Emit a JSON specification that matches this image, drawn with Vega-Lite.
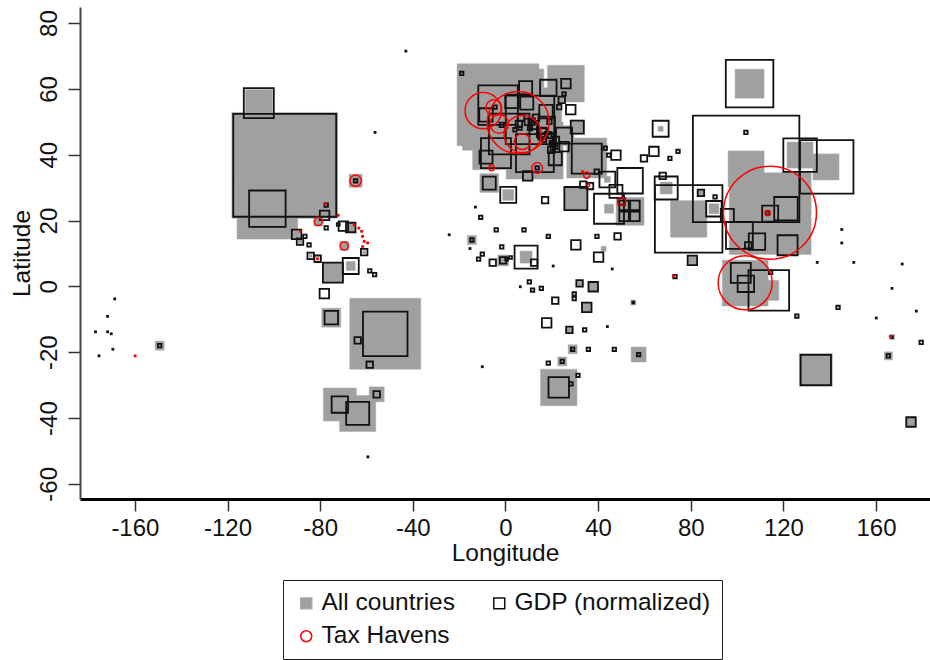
{"$schema":"https://vega.github.io/schema/vega-lite/v6.json","width":850,"height":492,"autosize":{"type":"none"},"padding":{"left":80,"top":7,"right":0,"bottom":161},"background":"white","config":{"font":"Liberation Sans","view":{"stroke":null},"axis":{"grid":false,"labelFont":"Liberation Sans","titleFont":"Liberation Sans","titleFontWeight":"normal","labelFontSize":24,"titleFontSize":24.5,"labelColor":"#111","titleColor":"#111","tickSize":12,"tickWidth":1.5,"tickColor":"#333"}},
"datasets":{
"allCountries":[{"lon":-95.3,"lat":36.8,"value":112},{"lon":-106.5,"lat":55.7,"value":7.3},{"lon":-102.8,"lat":23.6,"value":36.8},{"lon":-64.7,"lat":32.1,"value":1.7},{"lon":-90.2,"lat":15.8,"value":0.36},{"lon":-88.7,"lat":13.6,"value":0.16},{"lon":-84.1,"lat":9.3,"value":0.09},{"lon":-66.8,"lat":17.9,"value":0.8},{"lon":-61,"lat":10.4,"value":0.09},{"lon":-66.8,"lat":6.2,"value":0.8},{"lon":-74.5,"lat":4.2,"value":4},{"lon":-80.8,"lat":19.7,"value":0.8},{"lon":-69.6,"lat":12.3,"value":0.8},{"lon":-149.3,"lat":-18,"value":0.8},{"lon":-75.2,"lat":-9.5,"value":3.6},{"lon":-51.9,"lat":-14.4,"value":50.4},{"lon":-55.6,"lat":-32.8,"value":2.25},{"lon":-71.5,"lat":-35.9,"value":10.9},{"lon":-63.8,"lat":-38.6,"value":13},{"lon":-63.8,"lat":-16.4,"value":0.25},{"lon":-58.6,"lat":-23.8,"value":0.25},{"lon":-3.2,"lat":55.2,"value":67},{"lon":-1,"lat":53.7,"value":66},{"lon":3.5,"lat":47.9,"value":67},{"lon":12.6,"lat":41.3,"value":32.5},{"lon":26.1,"lat":61.6,"value":13.5},{"lon":35.1,"lat":39,"value":16},{"lon":17.8,"lat":49.1,"value":9},{"lon":25.3,"lat":45.8,"value":4},{"lon":31,"lat":48.4,"value":2},{"lon":17.5,"lat":53.1,"value":7.8},{"lon":-7,"lat":31.4,"value":3.5},{"lon":1.2,"lat":27.8,"value":1.2},{"lon":30.4,"lat":26.7,"value":5.3},{"lon":67,"lat":47.9,"value":0.25},{"lon":44,"lat":32.5,"value":0.36},{"lon":44.7,"lat":23.6,"value":0.8},{"lon":53.8,"lat":22.8,"value":7.8},{"lon":9.6,"lat":33.6,"value":1},{"lon":-14.5,"lat":14.1,"value":0.8},{"lon":-1,"lat":7.9,"value":1.2},{"lon":8.9,"lat":8.9,"value":1.44},{"lon":32,"lat":0.9,"value":0.36},{"lon":37.9,"lat":-0.1,"value":0.8},{"lon":35.1,"lat":-6.4,"value":1},{"lon":55.2,"lat":-4.9,"value":0.25},{"lon":42.4,"lat":11.4,"value":0.25},{"lon":27.6,"lat":-13.2,"value":0.36},{"lon":29,"lat":-19.1,"value":0.8},{"lon":57.5,"lat":-20.7,"value":2.25},{"lon":24.5,"lat":-22.8,"value":0.8},{"lon":23,"lat":-30.7,"value":13.3},{"lon":105.4,"lat":61.6,"value":8.4},{"lon":69.4,"lat":29.9,"value":1.44},{"lon":79.1,"lat":20.5,"value":13.3},{"lon":103.9,"lat":35.7,"value":13},{"lon":114.3,"lat":22.1,"value":67},{"lon":138.4,"lat":36.3,"value":6.8},{"lon":127.2,"lat":39.9,"value":6.8},{"lon":90,"lat":23.6,"value":1},{"lon":84.4,"lat":28.4,"value":0.36},{"lon":80.7,"lat":7.9,"value":0.8},{"lon":103.5,"lat":1,"value":21},{"lon":113.7,"lat":-1.2,"value":4},{"lon":134,"lat":-25.4,"value":10.9},{"lon":175.1,"lat":-41.2,"value":0.8},{"lon":166.9,"lat":-15.4,"value":0.25},{"lon":165.3,"lat":-21.1,"value":0.64}],
"gdp":[{"lon":-95.3,"lat":36.8,"value":106},{"lon":-106.5,"lat":55.7,"value":9},{"lon":-102.8,"lat":23.6,"value":13.3},{"lon":-64.7,"lat":32.1,"value":0.12},{"lon":-77.4,"lat":24.7,"value":0.12},{"lon":-78.1,"lat":21.6,"value":0.9},{"lon":-77.4,"lat":17.8,"value":0.12},{"lon":-90.2,"lat":15.8,"value":0.9},{"lon":-86.6,"lat":15.2,"value":0.12},{"lon":-88.7,"lat":13.6,"value":0.42},{"lon":-84.8,"lat":12.6,"value":0.12},{"lon":-84.1,"lat":9.3,"value":0.42},{"lon":-81.1,"lat":8.4,"value":0.42},{"lon":-72.2,"lat":18.8,"value":0.08},{"lon":-70,"lat":18.3,"value":0.9},{"lon":-66.8,"lat":17.9,"value":0.9},{"lon":-61,"lat":10.4,"value":0.42},{"lon":-66.8,"lat":6.2,"value":2.56},{"lon":-74.5,"lat":4.2,"value":4},{"lon":-58.6,"lat":4.7,"value":0.12},{"lon":-56.5,"lat":3.6,"value":0.12},{"lon":-56.3,"lat":46.8,"value":0.01},{"lon":-43,"lat":71.5,"value":0.01},{"lon":-168.7,"lat":-3.8,"value":0.01},{"lon":-171.8,"lat":-9.1,"value":0.01},{"lon":-177,"lat":-13.8,"value":0.01},{"lon":-171.8,"lat":-13.8,"value":0.01},{"lon":-170.2,"lat":-14.4,"value":0.01},{"lon":-169.5,"lat":-19.1,"value":0.01},{"lon":-175.5,"lat":-21.1,"value":0.01},{"lon":-149.3,"lat":-18,"value":0.12},{"lon":-78.2,"lat":-2.2,"value":0.9},{"lon":-75.2,"lat":-9.5,"value":1.8},{"lon":-51.9,"lat":-14.4,"value":19.8},{"lon":-63.8,"lat":-16.4,"value":0.42},{"lon":-58.6,"lat":-23.8,"value":0.42},{"lon":-55.6,"lat":-32.8,"value":0.42},{"lon":-71.5,"lat":-35.9,"value":2.7},{"lon":-63.8,"lat":-38.6,"value":5.3},{"lon":-59.4,"lat":-51.8,"value":0.01},{"lon":-18.9,"lat":64.7,"value":0.12},{"lon":-3.2,"lat":55.1,"value":15.6},{"lon":-8.4,"lat":39.3,"value":1.7},{"lon":-4.1,"lat":40.5,"value":9},{"lon":-8.4,"lat":52.1,"value":1.8},{"lon":-4.5,"lat":54.5,"value":0.12},{"lon":8.7,"lat":60.4,"value":1.7},{"lon":18.5,"lat":60.3,"value":2.7},{"lon":26.1,"lat":61.6,"value":0.9},{"lon":25.3,"lat":58.5,"value":0.12},{"lon":24.3,"lat":56.7,"value":0.42},{"lon":23.2,"lat":54.5,"value":0.2},{"lon":28.2,"lat":53.7,"value":0.9},{"lon":31,"lat":48.4,"value":1.7},{"lon":25.3,"lat":45.8,"value":2.56},{"lon":25.3,"lat":42.5,"value":0.9},{"lon":21.5,"lat":38.8,"value":1.7},{"lon":12.7,"lat":40.5,"value":14.3},{"lon":13.7,"lat":36,"value":0.12},{"lon":1.6,"lat":46.3,"value":16.5},{"lon":10.6,"lat":50.6,"value":23.5},{"lon":2.8,"lat":56.2,"value":1.8},{"lon":9.2,"lat":55.7,"value":1.7},{"lon":17.5,"lat":53.1,"value":1.8},{"lon":17.8,"lat":49.1,"value":2.7},{"lon":15.6,"lat":46.8,"value":0.9},{"lon":5.8,"lat":49.4,"value":0.42},{"lon":-1.6,"lat":49.1,"value":0.2},{"lon":11.3,"lat":50.1,"value":0.42},{"lon":9.7,"lat":50,"value":0.42},{"lon":13.2,"lat":51.3,"value":0.42},{"lon":12.3,"lat":48.8,"value":0.42},{"lon":6.7,"lat":51.3,"value":0.42},{"lon":19,"lat":50,"value":0.2},{"lon":18.4,"lat":46,"value":0.42},{"lon":16.6,"lat":44.5,"value":0.2},{"lon":21.8,"lat":44.5,"value":0.42},{"lon":19.7,"lat":41.5,"value":0.42},{"lon":20.6,"lat":43,"value":0.2},{"lon":20,"lat":43.5,"value":0.2},{"lon":21.4,"lat":42.4,"value":0.2},{"lon":20.4,"lat":42,"value":0.2},{"lon":4.1,"lat":47.6,"value":0.12},{"lon":6.3,"lat":48.1,"value":0.12},{"lon":10.6,"lat":48.1,"value":0.2},{"lon":14.9,"lat":45.1,"value":0.12},{"lon":16.3,"lat":46.6,"value":0.9},{"lon":-7,"lat":31.4,"value":1.7},{"lon":1.2,"lat":27.8,"value":2.56},{"lon":17.1,"lat":26.2,"value":0.42},{"lon":9.6,"lat":33.6,"value":0.9},{"lon":30.4,"lat":26.7,"value":5.3},{"lon":67,"lat":47.9,"value":2.56},{"lon":64.1,"lat":41,"value":0.9},{"lon":59.8,"lat":38.9,"value":0.42},{"lon":71,"lat":38.9,"value":0.12},{"lon":74.5,"lat":41,"value":0.12},{"lon":47.7,"lat":39.9,"value":0.9},{"lon":44.6,"lat":39.9,"value":0.12},{"lon":43.1,"lat":42,"value":0.12},{"lon":53.8,"lat":32.1,"value":6.5},{"lon":44,"lat":32.5,"value":2.5},{"lon":44.7,"lat":23.6,"value":9},{"lon":51.2,"lat":24.6,"value":0.9},{"lon":55.9,"lat":24.6,"value":0.9},{"lon":51.2,"lat":21.3,"value":0.9},{"lon":55.9,"lat":21.3,"value":0.9},{"lon":50.2,"lat":25.8,"value":0.42},{"lon":47.7,"lat":28.9,"value":1.7},{"lon":39.4,"lat":34.9,"value":0.2},{"lon":33.6,"lat":30.9,"value":0.42},{"lon":36.5,"lat":30.5,"value":0.42},{"lon":35.1,"lat":38.8,"value":9},{"lon":-13,"lat":24.1,"value":0.01},{"lon":-10.7,"lat":21,"value":0.12},{"lon":-4,"lat":17.2,"value":0.12},{"lon":8,"lat":17.2,"value":0.12},{"lon":18.5,"lat":15.2,"value":0.12},{"lon":-24.3,"lat":15.7,"value":0.01},{"lon":-14.5,"lat":14.1,"value":0.12},{"lon":-15.3,"lat":11.5,"value":0.01},{"lon":-1.6,"lat":12,"value":0.12},{"lon":-10,"lat":9.8,"value":0.12},{"lon":-11.6,"lat":8.3,"value":0.12},{"lon":-5.5,"lat":7.2,"value":0.42},{"lon":-1,"lat":7.9,"value":0.42},{"lon":0.5,"lat":8.3,"value":0.08},{"lon":2.2,"lat":8.8,"value":0.08},{"lon":8.9,"lat":8.9,"value":5.3},{"lon":12.4,"lat":7.2,"value":0.42},{"lon":20.6,"lat":6.2,"value":0.01},{"lon":30.4,"lat":12.6,"value":0.9},{"lon":39.5,"lat":15.2,"value":0.12},{"lon":48.4,"lat":15.2,"value":0.42},{"lon":40.2,"lat":8.9,"value":0.9},{"lon":46.1,"lat":5.3,"value":0.01},{"lon":73.2,"lat":3,"value":0.12},{"lon":10.3,"lat":1.4,"value":0.12},{"lon":6.4,"lat":-0.1,"value":0.01},{"lon":11.7,"lat":-1.1,"value":0.12},{"lon":15.5,"lat":-0.6,"value":0.12},{"lon":32,"lat":0.9,"value":0.42},{"lon":37.9,"lat":-0.1,"value":0.9},{"lon":29.7,"lat":-2.3,"value":0.12},{"lon":29.7,"lat":-3.7,"value":0.12},{"lon":21.5,"lat":-4.3,"value":0.42},{"lon":35.1,"lat":-6.4,"value":0.9},{"lon":55.2,"lat":-4.9,"value":0.03},{"lon":17.8,"lat":-11.1,"value":0.9},{"lon":27.6,"lat":-13.2,"value":0.42},{"lon":34.2,"lat":-13.2,"value":0.12},{"lon":44,"lat":-12.2,"value":0.01},{"lon":29,"lat":-19.1,"value":0.12},{"lon":35.8,"lat":-19.1,"value":0.12},{"lon":47,"lat":-19.1,"value":0.12},{"lon":57.5,"lat":-20.7,"value":0.12},{"lon":24.5,"lat":-22.8,"value":0.12},{"lon":18.5,"lat":-23.3,"value":0.12},{"lon":-10,"lat":-24.4,"value":0.01},{"lon":23,"lat":-30.7,"value":4.2},{"lon":28.3,"lat":-29.6,"value":0.12},{"lon":31.3,"lat":-27,"value":0.12},{"lon":105.4,"lat":61.6,"value":22.6},{"lon":67.9,"lat":33.6,"value":0.42},{"lon":69.4,"lat":29.9,"value":5.3},{"lon":79.1,"lat":20.5,"value":45.6},{"lon":103.9,"lat":35.7,"value":113.4},{"lon":114.3,"lat":22.1,"value":2.56},{"lon":113.2,"lat":22.3,"value":0.12},{"lon":138.7,"lat":36.3,"value":28.6},{"lon":127.2,"lat":39.9,"value":11.2},{"lon":121.8,"lat":12.5,"value":4},{"lon":121.1,"lat":23.6,"value":5.5},{"lon":108.6,"lat":13.6,"value":2.7},{"lon":101,"lat":15.5,"value":7.2},{"lon":104.8,"lat":12.5,"value":0.42},{"lon":95.8,"lat":21.6,"value":1.7},{"lon":90,"lat":23.6,"value":2.4},{"lon":84.4,"lat":28.4,"value":0.42},{"lon":90.5,"lat":27.2,"value":0.12},{"lon":103.8,"lat":46.8,"value":0.12},{"lon":80.7,"lat":7.9,"value":0.9},{"lon":113.7,"lat":-1.2,"value":16.5},{"lon":114.5,"lat":4.3,"value":0.12},{"lon":101.6,"lat":4.1,"value":4},{"lon":103.8,"lat":0.8,"value":2.7},{"lon":125.8,"lat":-9,"value":0.12},{"lon":143.6,"lat":-6.4,"value":0.12},{"lon":145.2,"lat":17.3,"value":0.01},{"lon":145.2,"lat":13.2,"value":0.01},{"lon":134.6,"lat":7.3,"value":0.01},{"lon":150.4,"lat":7.3,"value":0.01},{"lon":171.3,"lat":6.8,"value":0.01},{"lon":166.9,"lat":-0.6,"value":0.01},{"lon":177.4,"lat":-7.5,"value":0.01},{"lon":160.1,"lat":-9.6,"value":0.01},{"lon":166.9,"lat":-15.4,"value":0.03},{"lon":179.5,"lat":-17,"value":0.12},{"lon":165.3,"lat":-21.1,"value":0.12},{"lon":134,"lat":-25.4,"value":9.2},{"lon":175.1,"lat":-41.2,"value":0.9}],
"taxHavens":[{"lon":-64.7,"lat":32.1,"value":1.3},{"lon":-80.8,"lat":19.7,"value":0.64},{"lon":-69.6,"lat":12.3,"value":0.64},{"lon":-77.9,"lat":25.1,"value":0.03},{"lon":-88.6,"lat":16.7,"value":0.03},{"lon":-72.2,"lat":21.6,"value":0.03},{"lon":-63.3,"lat":17.7,"value":0.03},{"lon":-62.1,"lat":16.7,"value":0.03},{"lon":-61.7,"lat":15.2,"value":0.03},{"lon":-61,"lat":13.7,"value":0.03},{"lon":-59.5,"lat":13.2,"value":0.03},{"lon":-61.7,"lat":12.1,"value":0.03},{"lon":-65.3,"lat":18.7,"value":0.03},{"lon":-81.1,"lat":8.4,"value":0.03},{"lon":-159.9,"lat":-21.1,"value":0.03},{"lon":166.2,"lat":-15.2,"value":0.03},{"lon":72.6,"lat":3.2,"value":0.03},{"lon":-9.6,"lat":53.4,"value":13.2},{"lon":5.5,"lat":49.8,"value":38.5},{"lon":7.4,"lat":46.3,"value":13.8},{"lon":7.3,"lat":44,"value":2.54},{"lon":-2.7,"lat":49.4,"value":3.46},{"lon":-5,"lat":54.3,"value":2.54},{"lon":-6,"lat":36,"value":0.28},{"lon":13.7,"lat":36,"value":1.13},{"lon":35.1,"lat":33.8,"value":0.38},{"lon":35.8,"lat":30.7,"value":0.07},{"lon":33.3,"lat":34.9,"value":0.03},{"lon":50.2,"lat":25.8,"value":0.64},{"lon":114.2,"lat":22.4,"value":86.6},{"lon":113.2,"lat":22.3,"value":0.28},{"lon":103.5,"lat":1.1,"value":29.2}]},
"layer":[{"encoding":{"x":{"field":"lon","type":"quantitative","title":"Longitude","scale":{"domain":[-183.7,183.3],"nice":false,"zero":false},"axis":{"values":[-160,-120,-80,-40,0,40,80,120,160],"labelExpr":"'' + datum.value","domainWidth":3,"domainColor":"#000","labelPadding":5,"titlePadding":1,"labelFlush":false,"labelOverlap":false}},"y":{"field":"lat","type":"quantitative","title":"Latitude","scale":{"domain":[-64.6,84.9],"nice":false,"zero":false},"axis":{"values":[-60,-40,-20,0,20,40,60,80],"labelExpr":"'' + datum.value","domainWidth":2,"domainColor":"#444","labelAngle":-90,"labelAlign":"center","labelBaseline":"bottom","labelPadding":7,"titlePadding":3,"labelOverlap":false}},"size":{"field":"value","type":"quantitative","legend":null,"scale":{"type":"linear","domain":[0,120],"range":[0,12000],"zero":true}},"shape":{"scale":{"domain":["All countries","GDP (normalized)","Tax Havens"],"range":["square","square","circle"]},"legend":{"title":null,"orient":"none","direction":"horizontal","legendX":203,"legendY":573,"columns":2,"symbolSize":120,"symbolStrokeWidth":1.5,"labelFontSize":24.5,"labelFont":"Liberation Sans","labelColor":"#111","labelLimit":400,"labelOffset":3,"columnPadding":32,"rowPadding":8,"padding":11,"strokeColor":"#222","fillColor":"white"}},"fill":{"scale":{"domain":["All countries","GDP (normalized)","Tax Havens"],"range":["#a0a0a0","transparent","transparent"]},"legend":{"title":null}},"stroke":{"scale":{"domain":["All countries","GDP (normalized)","Tax Havens"],"range":["#a8a8a8","#111111","#ff0000"]},"legend":{"title":null}}},
"layer":[
{"data":{"name":"allCountries"},"mark":{"type":"point","opacity":1,"strokeWidth":0.5},"encoding":{"shape":{"datum":"All countries"},"fill":{"datum":"All countries"},"stroke":{"datum":"All countries"}}},
{"data":{"name":"gdp"},"mark":{"type":"point","opacity":1,"strokeWidth":1.8},"encoding":{"shape":{"datum":"GDP (normalized)"},"fill":{"datum":"GDP (normalized)"},"stroke":{"datum":"GDP (normalized)"}}},
{"data":{"name":"taxHavens"},"mark":{"type":"point","opacity":1,"strokeWidth":1.5},"encoding":{"shape":{"datum":"Tax Havens"},"fill":{"datum":"Tax Havens"},"stroke":{"datum":"Tax Havens"}}}]},
{"mark":{"type":"rule","color":"#444","strokeWidth":1.5},"encoding":{"y":{"datum":84.9}}}]}
